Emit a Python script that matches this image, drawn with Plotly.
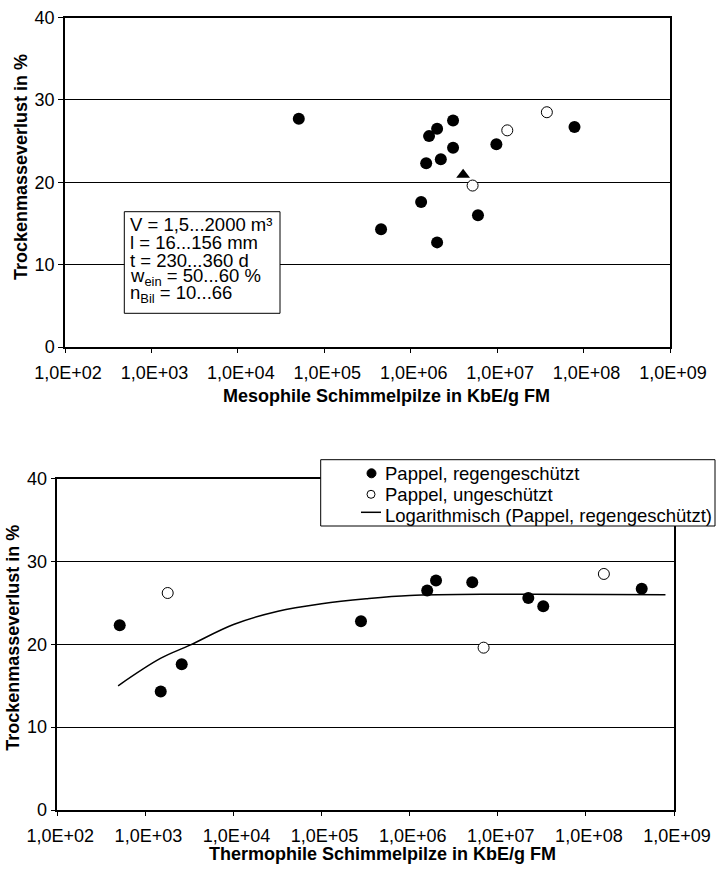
import plotly.graph_objects as go

W, H = 716, 870
FONT = "Liberation Sans, Arial, sans-serif"

# ---------------- data: top chart (mesophile) ----------------
meso_reg_x = [5.07e4, 4.54e5, 1.32e6, 1.63e6, 2.02e6, 3.09e6, 1.51e6, 2.23e6, 3.09e6,
              2.02e6, 6.0e6, 9.8e6, 7.85e7]
meso_reg_y = [27.7, 14.3, 17.6, 25.6, 26.5, 27.5, 22.3, 22.8, 24.2, 12.7, 16.0, 24.6, 26.7]
meso_unges_x = [5.2e6, 1.31e7, 3.76e7]
meso_unges_y = [19.6, 26.3, 28.5]
meso_other_x = [4.04e6]
meso_other_y = [20.9]

# ---------------- data: bottom chart (thermophile) ----------------
thermo_reg_x = [511, 1493, 2583, 2.8e5, 1.58e6, 1.99e6, 5.13e6, 2.22e7, 3.28e7, 4.3e8]
thermo_reg_y = [22.3, 14.3, 17.6, 22.8, 26.5, 27.7, 27.5, 25.6, 24.6, 26.7]
thermo_unges_x = [1791, 6.9e6, 1.6e8]
thermo_unges_y = [26.2, 19.6, 28.5]
trend_x = [490, 1480, 3200, 1e4, 3.2e4, 1e5, 3.2e5, 1e6, 1e7, 8e8]
trend_y = [15.0, 18.3, 19.9, 22.4, 24.0, 24.9, 25.5, 25.9, 26.05, 26.0]

tick_vals = [1e2, 1e3, 1e4, 1e5, 1e6, 1e7, 1e8, 1e9]
tick_text = ["1,0E+02", "1,0E+03", "1,0E+04", "1,0E+05", "1,0E+06", "1,0E+07", "1,0E+08", "1,0E+09"]
y_ticks = [0, 10, 20, 30, 40]

info_lines = ["V = 1,5...2000 m³", "l = 16...156 mm", "t = 230...360 d",
              "w<sub>ein</sub> = 50...60 %", "n<sub>Bil</sub> = 10...66"]

names = ["Pappel, regengeschützt", "Pappel, ungeschützt", "Logarithmisch (Pappel, regengeschützt)"]

fig = go.Figure()

filled = dict(symbol="circle", size=12, color="black")
hollow = dict(symbol="circle", size=11, color="white", line=dict(color="black", width=1))

fig.add_trace(go.Scatter(x=meso_reg_x, y=meso_reg_y, mode="markers", marker=filled,
                         xaxis="x", yaxis="y", showlegend=False))
fig.add_trace(go.Scatter(x=meso_unges_x, y=meso_unges_y, mode="markers", marker=hollow,
                         xaxis="x", yaxis="y", showlegend=False))
fig.add_trace(go.Scatter(x=meso_other_x, y=meso_other_y, mode="markers",
                         marker=dict(symbol="triangle-up", size=12, color="black"),
                         xaxis="x", yaxis="y", showlegend=False))

fig.add_trace(go.Scatter(x=thermo_reg_x, y=thermo_reg_y, mode="markers", marker=filled,
                         xaxis="x2", yaxis="y2", name=names[0], showlegend=False))
fig.add_trace(go.Scatter(x=thermo_unges_x, y=thermo_unges_y, mode="markers", marker=hollow,
                         xaxis="x2", yaxis="y2", name=names[1], showlegend=False))
fig.add_trace(go.Scatter(x=trend_x, y=trend_y, mode="lines",
                         line=dict(color="black", width=1.5, shape="spline", smoothing=1.0),
                         xaxis="x2", yaxis="y2", name=names[2], showlegend=False))


def px_x(p):
    return p / W


def px_y(p):
    return 1 - p / H


xcommon = dict(type="log", range=[2, 9], tickvals=tick_vals, ticktext=tick_text,
               ticks="outside", ticklen=4, tickwidth=1, tickcolor="black",
               showline=True, linecolor="black", linewidth=1.5, mirror=True,
               showgrid=False, zeroline=False, automargin=False,
               tickfont=dict(family=FONT, size=18, color="black"),
               ticklabelstandoff=5, ticklabelshift=3)
ycommon = dict(range=[0, 40], tickvals=y_ticks, ticks="outside", ticklen=5, tickwidth=1,
               tickcolor="black", showline=True, linecolor="black", linewidth=1.5, mirror=True,
               showgrid=True, gridcolor="black", gridwidth=1, zeroline=False, automargin=False,
               tickfont=dict(family=FONT, size=18, color="black"))

fig.update_layout(
    width=W, height=H,
    margin=dict(l=0, r=0, t=0, b=0),
    paper_bgcolor="white", plot_bgcolor="white",
    font=dict(family=FONT, size=18, color="black"),
    xaxis=dict(domain=[px_x(65), px_x(670)], anchor="y", **xcommon),
    yaxis=dict(domain=[px_y(347), px_y(17.5)], anchor="x", **ycommon),
    xaxis2=dict(domain=[px_x(57.3), px_x(674)], anchor="y2", **xcommon),
    yaxis2=dict(domain=[px_y(810), px_y(478.7)], anchor="x2", **ycommon),
    showlegend=False,
)

# legend (drawn as box + keys + labels, matching the original's compact layout)
leg_rows = [473.3, 494.3, 515.3]
shapes = [
    dict(type="rect", xref="paper", yref="paper",
         x0=px_x(124.3), x1=px_x(280), y0=px_y(313.3), y1=px_y(211.7),
         fillcolor="white", line=dict(color="black", width=1), layer="above"),
    dict(type="rect", xref="paper", yref="paper",
         x0=px_x(320.7), x1=px_x(715), y0=px_y(526), y1=px_y(459.7),
         fillcolor="white", line=dict(color="black", width=1), layer="above"),
    # legend keys
    dict(type="circle", xref="paper", yref="paper",
         x0=px_x(367), x1=px_x(376), y0=px_y(leg_rows[0] + 4.5), y1=px_y(leg_rows[0] - 4.5),
         fillcolor="black", line=dict(color="black", width=1), layer="above"),
    dict(type="circle", xref="paper", yref="paper",
         x0=px_x(367), x1=px_x(375), y0=px_y(leg_rows[1] + 4), y1=px_y(leg_rows[1] - 4),
         fillcolor="white", line=dict(color="black", width=1), layer="above"),
    dict(type="line", xref="paper", yref="paper",
         x0=px_x(361), x1=px_x(381), y0=px_y(leg_rows[2] - 3), y1=px_y(leg_rows[2] - 3),
         line=dict(color="black", width=1.5), layer="above"),
]
fig.update_layout(shapes=shapes)

annotations = []
for txt, yc in zip(names, leg_rows):
    annotations.append(dict(text=txt, xref="paper", yref="paper", x=px_x(383), y=px_y(yc),
                            xanchor="left", yanchor="middle", showarrow=False,
                            font=dict(family=FONT, size=18.5, color="black")))

line_centers = [225, 242.5, 260, 277, 294]
for txt, yc in zip(info_lines, line_centers):
    annotations.append(dict(text=txt, xref="paper", yref="paper", x=px_x(127.5), y=px_y(yc),
                            xanchor="left", yanchor="middle", showarrow=False,
                            font=dict(family=FONT, size=18.5, color="black")))

annotations.append(dict(text="<b>Mesophile Schimmelpilze in KbE/g FM</b>", xref="paper", yref="paper",
                        x=px_x(386.5), y=px_y(396), xanchor="center", yanchor="middle",
                        showarrow=False, font=dict(family=FONT, size=18, color="black")))
annotations.append(dict(text="<b>Thermophile Schimmelpilze in KbE/g FM</b>", xref="paper", yref="paper",
                        x=px_x(382.7), y=px_y(854), xanchor="center", yanchor="middle",
                        showarrow=False, font=dict(family=FONT, size=18, color="black")))
annotations.append(dict(text="<b>Trockenmasseverlust in %</b>", xref="paper", yref="paper",
                        x=px_x(21.5), y=px_y(167.5), xanchor="center", yanchor="middle",
                        textangle=-90, showarrow=False, font=dict(family=FONT, size=18, color="black")))
annotations.append(dict(text="<b>Trockenmasseverlust in %</b>", xref="paper", yref="paper",
                        x=px_x(13.5), y=px_y(638.3), xanchor="center", yanchor="middle",
                        textangle=-90, showarrow=False, font=dict(family=FONT, size=18, color="black")))
fig.update_layout(annotations=annotations)

fig.write_html("out.html", config={"displayModeBar": False},
               post_script="document.body.style.margin='0px';")
